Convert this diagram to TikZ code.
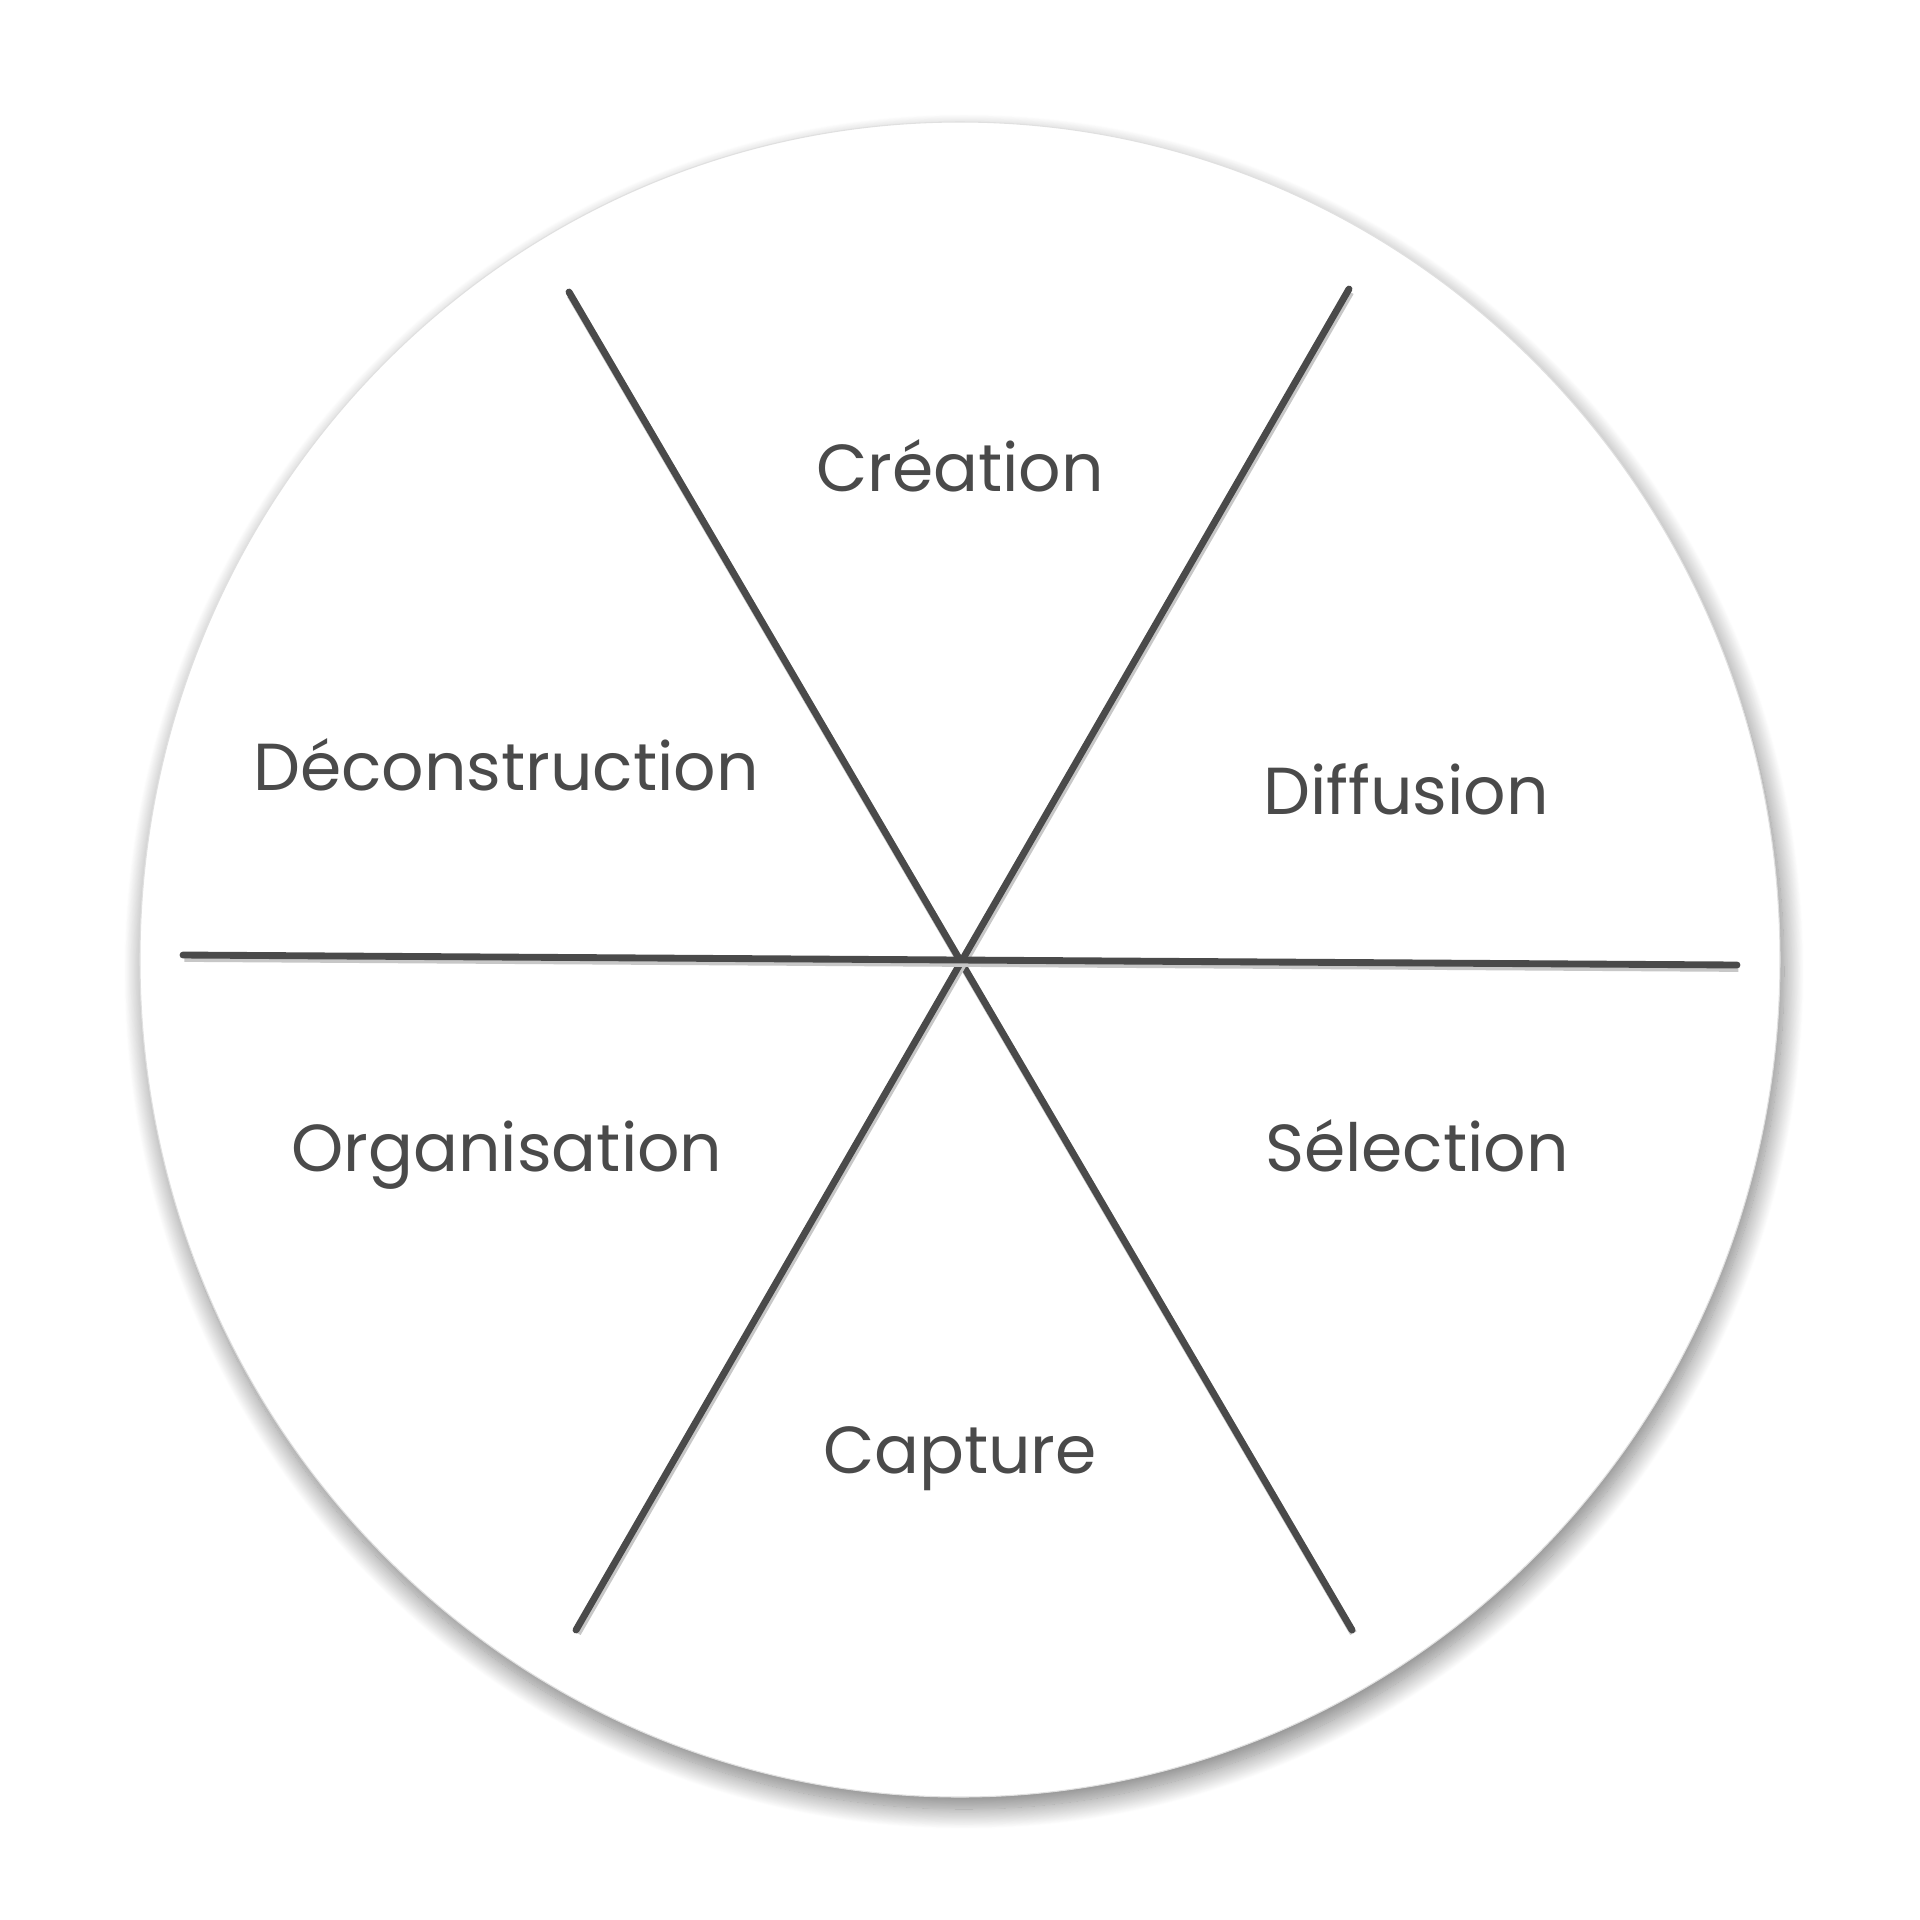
\documentclass[tikz,border=0pt]{standalone}
\usepackage{fontspec}
\setmainfont{Poppins}
\usepackage{tikz}
\usetikzlibrary{shadows.blur}
\definecolor{inkgray}{HTML}{4A4A4A}

\begin{document}
\begin{tikzpicture}[x=0.01cm,y=-0.01cm,
  phase/.style={font=\fontsize{18.9}{23}\selectfont,text=inkgray,anchor=base,inner sep=0pt},
  spoke/.style={draw=inkgray,line width=1.95pt,line cap=round,
    preaction={draw=black!22,line width=2.1pt,transform canvas={shift={(0.4pt,-0.9pt)}}}}]
\useasboundingbox (0,0) rectangle (1920,1920);
% disc
\filldraw[fill=white,draw=black!12,line width=0.3pt,
  blur shadow={shadow xshift=0.4mm,shadow yshift=-1.2mm,shadow blur radius=2mm,shadow blur steps=24,shadow opacity=50}]
  (960,959.5) ellipse [x radius=820,y radius=837.5];
% spoke ends
\coordinate (tl) at (569,292);
\coordinate (br) at (1352,1630);
\coordinate (tr) at (1349,289);
\coordinate (bl) at (576,1630);
\coordinate (lt) at (183,955);
\coordinate (rt) at (1737,965);
\draw[spoke] (tl) -- (br);
\draw[spoke] (tr) -- (bl);
\draw[spoke] (lt) -- (rt);
% labels
\node[phase] (creation) at (960,491) {Création};
\node[phase] (decon) at (506,790) {Déconstruction};
\node[phase] (diffusion) at (1406,814) {Diffusion};
\node[phase] (orga) at (507,1171) {Organisation};
\node[phase] (selection) at (1417,1171) {Sélection};
\node[phase] (capture) at (960,1473) {Capture};
\end{tikzpicture}
\end{document}
